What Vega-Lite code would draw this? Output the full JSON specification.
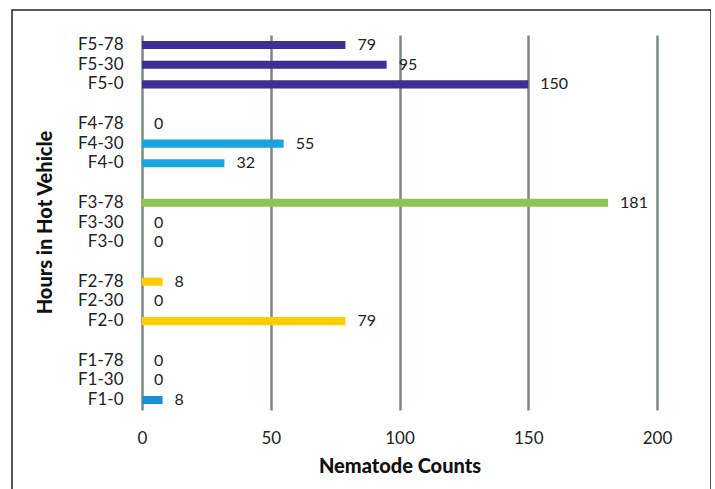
{
  "$schema": "https://vega.github.io/schema/vega-lite/v6.json",
  "width": 699,
  "height": 490,
  "autosize": {"type": "none"},
  "padding": {"left": 12, "top": 10, "right": 0, "bottom": 0},
  "background": "white",
  "config": {
    "view": {"stroke": "#222222", "strokeWidth": 1.5},
    "font": "Lato"
  },
  "data": {
    "values": [
      {"label": "F5-78", "group": "F5", "count": 79},
      {"label": "F5-30", "group": "F5", "count": 95},
      {"label": "F5-0", "group": "F5", "count": 150},
      {"label": "F4-78", "group": "F4", "count": 0},
      {"label": "F4-30", "group": "F4", "count": 55},
      {"label": "F4-0", "group": "F4", "count": 32},
      {"label": "F3-78", "group": "F3", "count": 181},
      {"label": "F3-30", "group": "F3", "count": 0},
      {"label": "F3-0", "group": "F3", "count": 0},
      {"label": "F2-78", "group": "F2", "count": 8},
      {"label": "F2-30", "group": "F2", "count": 0},
      {"label": "F2-0", "group": "F2", "count": 79},
      {"label": "F1-78", "group": "F1", "count": 0},
      {"label": "F1-30", "group": "F1", "count": 0},
      {"label": "F1-0", "group": "F1", "count": 8}
    ]
  },
  "encoding": {
    "y": {
      "field": "label",
      "type": "nominal",
      "sort": null,
      "scale": {
        "domain": ["F5-78","F5-30","F5-0","s1","F4-78","F4-30","F4-0","s2","F3-78","F3-30","F3-0","s3","F2-78","F2-30","F2-0","s4","F1-78","F1-30","F1-0"],
        "range": [25, 400],
        "paddingInner": 0.59,
        "paddingOuter": 0.3
      },
      "axis": {
        "title": "Hours in Hot Vehicle",
        "labelExpr": "indexof(datum.value, 's') == 0 ? '' : datum.value",
        "offset": -130,
        "domain": false,
        "ticks": false,
        "grid": false,
        "labelPadding": 19,
        "labelFontSize": 17,
        "labelColor": "#222222",
        "labelFont": "Lato",
        "titleFont": "Lato",
        "titleFontSize": 20,
        "titleFontWeight": 900,
        "titleColor": "#111111",
        "titleAngle": 270,
        "titleX": -97,
        "titleY": 212,
        "titleAlign": "center",
        "titleBaseline": "middle"
      }
    }
  },
  "resolve": {"axis": {"x": "independent"}},
  "layer": [
    {
      "mark": {"type": "bar"},
      "encoding": {
        "x": {
          "field": "count",
          "type": "quantitative",
          "scale": {"domain": [0, 200], "range": [130, 645], "nice": false},
          "axis": {
            "orient": "top",
            "title": null,
            "values": [0, 50, 100, 150, 200],
            "domain": false,
            "ticks": false,
            "labels": false,
            "grid": true,
            "gridColor": "#7a8a80",
            "gridWidth": 2.5,
            "gridOpacity": 1
          }
        },
        "color": {
          "field": "group",
          "type": "nominal",
          "scale": {
            "domain": ["F1", "F2", "F3", "F4", "F5"],
            "range": ["#1b8fd6", "#ffcc00", "#8bc652", "#1aa3e0", "#3f2f95"]
          },
          "legend": null
        }
      }
    },
    {
      "mark": {"type": "text", "align": "left", "baseline": "middle", "dx": 12, "fontSize": 16, "font": "Lato", "color": "#222222"},
      "encoding": {
        "x": {
          "field": "count",
          "type": "quantitative",
          "axis": {
            "orient": "bottom",
            "title": "Nematode Counts",
            "values": [0, 50, 100, 150, 200],
            "offset": -74,
            "domain": false,
            "ticks": false,
            "grid": false,
            "labelFlush": false,
            "labelPadding": 4,
            "labelFontSize": 17,
            "labelColor": "#222222",
            "labelFont": "Lato",
            "titleFont": "Lato",
            "titleFontSize": 20,
            "titleFontWeight": 900,
            "titleColor": "#111111",
            "titlePadding": 10
          }
        },
        "text": {"field": "count", "type": "quantitative"}
      }
    }
  ]
}
